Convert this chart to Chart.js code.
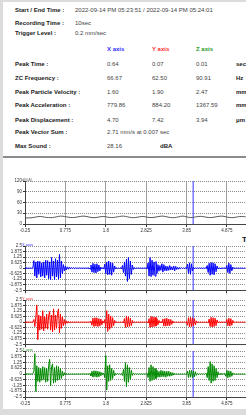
<!DOCTYPE html>
<html>
<head>
<meta charset="utf-8">
<script src="https://cdn.jsdelivr.net/npm/chart.js@4.4.1/dist/chart.umd.min.js"></script>
<style>
    html, body { margin: 0; padding: 0; }
    body {
        width: 246px; height: 415px; overflow: hidden; position: relative;
        background: #dcdcdc; font-family: "Liberation Sans", Arial, sans-serif;
    }
    #panel {
        position: absolute; left: 3px; top: 2px; width: 260px; height: 154px;
        background: #fff; border-bottom: 2px solid #8c8c8c;
    }
    #plots {
        position: absolute; left: 3px; top: 158px; width: 260px; height: 251px;
        background: #fff;
    }
    .t { position: absolute; font-size: 6px; line-height: 8px; white-space: nowrap; color: #444; }
    .lbl { left: 15px; font-weight: bold; color: #1a1a1a; }
    .v1 { left: 75px; }
    .cx { left: 107px; }
    .cy { left: 152px; }
    .cz { left: 196px; }
    .cu { left: 236px; font-weight: bold; color: #1a1a1a; }
    .hd { font-weight: bold; }
    .box { position: absolute; left: 0; width: 246px; }
</style>
</head>
<body>
<div id="panel"></div>
<div id="plots"></div>

<div class="t lbl" style="top:6px">Start / End Time :</div>
<div class="t v1" style="top:6px">2022-09-14 PM 05:23:51 / 2022-09-14 PM 05:24:01</div>
<div class="t lbl" style="top:19px">Recording Time :</div>
<div class="t v1" style="top:19px">10sec</div>
<div class="t lbl" style="top:29px">Trigger Level :</div>
<div class="t v1" style="top:29px">0.2 mm/sec</div>

<div class="t cx hd" style="top:45px;color:#3030ff">X axis</div>
<div class="t cy hd" style="top:45px;color:#ff2a2a">Y axis</div>
<div class="t cz hd" style="top:45px;color:#2a9a2a">Z axis</div>

<div class="t lbl" style="top:60px">Peak Time :</div>
<div class="t cx" style="top:60px">0.64</div>
<div class="t cy" style="top:60px">0.07</div>
<div class="t cz" style="top:60px">0.01</div>
<div class="t cu" style="top:60px">sec</div>

<div class="t lbl" style="top:74px">ZC Frequency :</div>
<div class="t cx" style="top:74px">66.67</div>
<div class="t cy" style="top:74px">62.50</div>
<div class="t cz" style="top:74px">90.91</div>
<div class="t cu" style="top:74px">Hz</div>

<div class="t lbl" style="top:88px">Peak Particle Velocity :</div>
<div class="t cx" style="top:88px">1.60</div>
<div class="t cy" style="top:88px">1.90</div>
<div class="t cz" style="top:88px">2.47</div>
<div class="t cu" style="top:88px">mm/s</div>

<div class="t lbl" style="top:101px">Peak Acceleration :</div>
<div class="t cx" style="top:101px">779.86</div>
<div class="t cy" style="top:101px">884.20</div>
<div class="t cz" style="top:101px">1367.59</div>
<div class="t cu" style="top:101px">mm/s²</div>

<div class="t lbl" style="top:116px">Peak Displacement :</div>
<div class="t cx" style="top:116px">4.70</div>
<div class="t cy" style="top:116px">7.42</div>
<div class="t cz" style="top:116px">3.94</div>
<div class="t cu" style="top:116px">μm</div>

<div class="t lbl" style="top:128px">Peak Vector Sum :</div>
<div class="t cx" style="top:128px">2.71 mm/s at 0.007 sec</div>

<div class="t lbl" style="top:142px">Max Sound :</div>
<div class="t cx" style="top:142px">28.16</div>
<div class="t hd" style="top:142px;left:160px;color:#1a1a1a">dBA</div>

<div class="t hd" style="top:236px;left:242px;font-size:8px;color:#111">T</div>

<div class="box" style="top:177px;height:57px"><canvas id="soundChart" width="246" height="57"></canvas></div>
<div class="box" style="top:242px;height:52px"><canvas id="xChart" width="246" height="52"></canvas></div>
<div class="box" style="top:296px;height:52px"><canvas id="yChart" width="246" height="52"></canvas></div>
<div class="box" style="top:347px;height:60px"><canvas id="zChart" width="246" height="60"></canvas></div>

<script>
// Time axis
const waveStart = -0.25, waveStep = 0.025;   // seconds per sample
const soundStart = -0.25, soundStep = 0.1;
const xMin = -0.25, xMax = 5.36;
const xTicks = [-0.25, 0.775, 1.8, 2.825, 3.85, 4.875];
const xTickLabels = ['-0.25', '0.775', '1.8', '2.825', '3.85', '4.875'];

const waveTicks = [-2.5, -1.875, -1.25, -0.625, 0, 0.625, 1.25, 1.875, 2.5];
const waveTickLabels = ['-2.5', '-1.875', '-1.25', '-0.625', '0', '0.625', '1.25', '1.875', '2.5'];
const soundTicks = [0, 30, 60, 90, 120];

const cursorTime = 4.02;

// Sound level, dB(A)
const soundLevel = [
    17, 17, 18, 20, 21, 19, 18, 18, 20, 22,
    21, 19, 18, 19, 21, 22, 20, 18, 18, 20,
    21, 19, 18, 19, 21, 22, 20, 18, 18, 20,
    21, 19, 18, 19, 21, 22, 20, 18, 18, 20,
    22, 20, 18, 19, 21, 21, 19, 18, 19, 21,
    22, 20, 18, 18, 20, 21, 20
];

// X axis (blue) velocity
const xWave = [
    0.03, -0.03, 0.03, -0.03, 0.03, -0.03, 0.03, -0.03, 0.03, 0.85,
    -0.9, 0.7, -1.1, 0.8, -0.7, 0.75, -1.0, 0.6, -0.9, 0.7,
    -1.1, 0.9, -0.8, 0.85, -1.2, 0.7, -1.3, 1.2, -0.9, 0.8,
    -1.3, 1.07, -1.0, 0.9, -1.25, 1.55, -1.1, 0.8, -0.6, 0.4,
    -0.3, 0.25, -0.2, 0.15, -0.12, 0.1, -0.08, 0.08, -0.06, 0.06,
    -0.05, 0.05, -0.04, 0.03, -0.03, 0.03, -0.03, 0.03, -0.03, 0.03,
    -0.03, 0.03, -0.03, 0.03, -0.03, 0.05, -0.1, 0.35, -0.45, 0.55,
    -0.5, 0.45, -0.55, 0.5, -0.4, 0.35, -0.3, 0.12, -0.08, 0.06,
    -0.1, 0.45, -0.6, 0.7, -0.75, 0.8, -0.7, 0.65, -0.8, 0.55,
    -0.45, 0.25, -0.1, 0.06, -0.05, 0.05, -0.05, 0.06, -0.08, 0.3,
    -0.5, 0.7, -0.9, 1.0, -1.5, 1.2, -1.2, 0.8, -0.7, 0.35,
    -0.15, 0.08, -0.05, 0.04, -0.03, 0.03, -0.03, 0.03, -0.03, 0.03,
    -0.03, 0.03, -0.04, 0.06, -0.1, 0.6, -0.9, 1.2, -0.96, 0.9,
    -0.8, 0.7, -0.9, 0.75, -0.6, 0.4, -0.35, 0.3, -0.25, 0.5,
    -0.45, 0.4, -0.3, 0.25, -0.3, 0.2, -0.25, 0.3, -0.2, 0.15,
    -0.2, 0.25, -0.3, 0.2, -0.15, 0.1, -0.12, 0.08, -0.06, 0.05,
    -0.04, 0.03, -0.03, 0.05, -0.1, 0.45, -0.6, 0.6, -0.7, 0.5,
    -0.3, 0.1, -0.05, 0.03, -0.03, 0.03, -0.03, 0.03, -0.03, 0.03,
    -0.03, 0.03, -0.03, 0.04, -0.06, 0.3, -0.5, 0.55, -0.8, 0.64,
    -0.7, 0.6, -0.75, 0.5, -0.4, 0.25, -0.1, 0.05, -0.04, 0.03,
    -0.03, 0.03, -0.03, 0.04, -0.06, 0.3, -0.5, 0.57, -0.6, 0.4,
    -0.3, 0.12, -0.06, 0.03, -0.03, 0.03, -0.03, 0.03, -0.03, 0.03,
    -0.03, 0.03, -0.03, 0.03, -0.03
];

// Y axis (red) velocity
const yWave = [
    0.03, -0.03, 0.03, -0.03, 0.03, -0.03, 0.03, -0.03, 0.03, 0.3,
    -0.5, 0.6, 1.94, -1.98, 0.8, -0.9, 0.7, -0.8, 1.3, -1.0,
    0.6, -0.7, 0.9, -0.8, 0.7, 1.2, -0.9, 0.8, -1.1, 1.5,
    -0.9, 0.8, -0.7, 1.0, 1.5, -1.2, 0.9, -0.7, 0.6, -0.4,
    0.3, -0.25, 0.15, -0.12, 0.1, -0.08, 0.06, -0.05, 0.04, -0.03,
    0.03, -0.03, 0.03, -0.03, 0.03, -0.03, 0.03, -0.03, 0.03, -0.03,
    0.03, -0.03, 0.03, -0.03, 0.03, -0.03, 0.05, 0.1, -0.35, 0.45,
    -0.5, 0.5, -0.45, 0.5, -0.5, 0.4, -0.45, 0.35, -0.3, 0.15,
    -0.08, 0.3, -0.6, 1.3, -1.05, 0.9, -0.8, 0.7, -0.6, 0.5,
    -0.4, 0.2, -0.08, 0.05, -0.04, 0.03, -0.03, 0.03, -0.03, 0.04,
    -0.1, 0.4, -0.6, 0.7, -0.55, 0.6, -0.5, 0.45, -0.4, 0.2,
    -0.08, 0.05, -0.03, 0.03, -0.03, 0.03, -0.03, 0.03, -0.03, 0.03,
    -0.03, 0.03, -0.03, 0.03, 0.05, -0.1, 0.4, -0.6, 0.65, -0.55,
    0.6, -0.5, 0.55, -0.45, 0.4, -0.3, 0.2, -0.1, 0.08, -0.1,
    0.35, -0.45, 0.4, -0.45, 0.45, -0.4, 0.35, -0.4, 0.3, -0.25,
    0.15, -0.08, 0.05, -0.03, 0.03, -0.03, 0.03, -0.03, 0.03, -0.03,
    0.03, -0.03, 0.03, -0.03, 0.08, -0.35, 0.5, -0.55, 0.55, -0.5,
    0.5, -0.45, 0.4, -0.3, 0.15, -0.06, 0.04, -0.03, 0.03, -0.03,
    0.03, -0.03, 0.03, -0.03, 0.03, -0.03, -0.08, 0.35, -0.5, 0.55,
    -0.55, 0.5, -0.5, 0.45, -0.4, 0.25, -0.1, 0.05, -0.03, 0.03,
    -0.03, 0.03, -0.03, 0.03, -0.06, 0.3, -0.4, 0.45, -0.45, 0.4,
    -0.35, 0.2, -0.08, 0.04, -0.03, 0.03, -0.03, 0.03, -0.03, 0.03,
    -0.03, 0.03, -0.03, 0.03, -0.03
];

// Z axis (green) velocity
const zWave = [
    0.03, -0.03, 0.03, -0.03, 0.03, -0.03, 0.03, -0.03, 0.03, 0.3,
    2.2, -1.9, 0.9, -0.8, 0.7, -0.9, 0.6, -0.7, 0.8, -0.6,
    0.7, -0.9, 0.6, -0.8, 0.9, 1.6, -1.3, 0.8, 1.1, -1.0,
    0.7, -0.9, 0.9, -0.7, 0.8, -0.6, 0.6, -0.5, 0.3, -0.2,
    0.15, -0.1, 0.08, -0.06, 0.05, -0.04, 0.03, -0.03, 0.03, -0.03,
    0.03, -0.03, 0.03, -0.03, 0.03, -0.03, 0.03, -0.03, 0.03, -0.03,
    0.03, -0.03, 0.03, -0.03, 0.03, -0.03, 0.06, -0.2, 0.3, -0.35,
    0.35, -0.3, 0.35, -0.35, 0.3, -0.3, 0.25, -0.2, 0.15, -0.08,
    0.1, -0.4, 2.0, -1.75, 0.9, -0.8, 1.0, -0.7, 0.6, -0.5,
    0.4, -0.2, 0.08, -0.05, 0.04, -0.03, 0.03, -0.03, 0.05, -0.15,
    0.5, -0.8, 1.24, -1.4, 1.0, -0.9, 0.7, -0.6, 0.4, -0.15,
    0.06, -0.03, 0.03, -0.03, 0.03, -0.03, 0.03, -0.03, 0.03, -0.03,
    0.03, -0.03, 0.03, -0.03, 0.08, -0.4, 0.7, -0.8, 1.0, -0.7,
    0.8, -0.6, 0.6, -0.5, 0.4, -0.35, 0.3, -0.35, 0.4, -0.3,
    0.35, -0.3, 0.3, -0.35, 0.3, -0.25, 0.3, -0.25, 0.2, -0.2,
    0.15, -0.12, 0.08, -0.05, 0.04, -0.03, 0.03, -0.03, 0.03, -0.03,
    0.03, -0.03, 0.03, -0.03, -0.06, 0.3, -0.4, 0.4, -0.35, 0.4,
    -0.4, 0.35, -0.3, 0.25, -0.15, 0.06, -0.03, 0.03, -0.03, 0.03,
    -0.03, 0.03, -0.03, 0.03, 0.08, -0.4, 0.8, -0.7, 1.35, -1.0,
    1.1, -0.8, 0.9, -0.7, 0.6, -0.4, 0.25, -0.1, 0.05, -0.03,
    0.03, -0.03, 0.03, 0.06, -0.25, 0.4, -0.4, 0.35, -0.35, 0.3,
    -0.25, 0.12, -0.05, 0.03, -0.03, 0.03, -0.03, 0.03, -0.03, 0.03,
    -0.03, 0.03, -0.03, 0.03, -0.03
];

const tickFont = { family: 'Liberation Sans', size: 4.5 };

// Small label drawn at the top-left corner of the plot area
const cornerLabel = {
    id: 'cornerLabel',
    afterDraw(chart, args, opts) {
        const { ctx, chartArea } = chart;
        ctx.save();
        ctx.font = '4px "Liberation Sans"';
        ctx.fillStyle = opts.color;
        ctx.textBaseline = 'bottom';
        ctx.fillText(opts.text, chartArea.left - 3, chartArea.top + 1);
        ctx.restore();
    }
};

function toPoints(values, start, step) {
    return values.map((v, i) => ({ x: start + i * step, y: v }));
}

function makeChart(id, opts) {
    const ctx = document.getElementById(id).getContext('2d');
    return new Chart(ctx, {
        type: 'line',
        data: {
            datasets: [{
                data: opts.points,
                borderColor: opts.color,
                borderWidth: 1,
                pointRadius: 0,
                tension: opts.tension || 0
            }, {
                data: [{ x: cursorTime, y: opts.yMin }, { x: cursorTime, y: opts.yMax }],
                borderColor: '#7878ff',
                borderWidth: 1.5,
                pointRadius: 0
            }]
        },
        options: {
            responsive: false,
            animation: false,
            layout: { padding: { top: 4, right: 0, bottom: 0, left: 0 } },
            plugins: {
                legend: { display: false },
                tooltip: { enabled: false },
                cornerLabel: { text: opts.title, color: opts.titleColor }
            },
            scales: {
                x: {
                    type: 'linear',
                    min: xMin,
                    max: xMax,
                    afterBuildTicks: s => { s.ticks = xTicks.map(v => ({ value: v })); },
                    afterFit: s => { s.height = opts.showX ? 10 : 3; },
                    grid: { color: '#a0a0a0', tickColor: '#333', tickLength: 3 },
                    border: { color: '#444', width: 1 },
                    ticks: {
                        display: opts.showX,
                        autoSkip: false,
                        maxRotation: 0,
                        padding: 1,
                        color: '#333',
                        font: tickFont,
                        callback: (v, i) => xTickLabels[i]
                    }
                },
                y: {
                    min: opts.yMin,
                    max: opts.yMax,
                    afterBuildTicks: s => { s.ticks = opts.yTicks.map(v => ({ value: v })); },
                    afterFit: s => { s.width = 25; },
                    grid: { color: '#8a8a8a', tickColor: '#333', tickLength: 2 },
                    border: { color: '#444', width: 1, dash: [1, 1] },
                    ticks: {
                        autoSkip: false,
                        padding: 1,
                        color: '#333',
                        font: tickFont,
                        callback: (v, i) => opts.yLabels[i]
                    }
                }
            }
        },
        plugins: [cornerLabel]
    });
}

makeChart('soundChart', {
    points: toPoints(soundLevel, soundStart, soundStep),
    color: '#555', tension: 0.4,
    yMin: 0, yMax: 120, yTicks: soundTicks, yLabels: soundTicks.map(String),
    title: 'dB(A)', titleColor: '#777', showX: true
});
makeChart('xChart', {
    points: toPoints(xWave, waveStart, waveStep),
    color: '#0000ff',
    yMin: -2.5, yMax: 2.5, yTicks: waveTicks, yLabels: waveTickLabels,
    title: 'X axis', titleColor: '#3030ff', showX: false
});
makeChart('yChart', {
    points: toPoints(yWave, waveStart, waveStep),
    color: '#ff0000',
    yMin: -2.5, yMax: 2.5, yTicks: waveTicks, yLabels: waveTickLabels,
    title: 'Y axis', titleColor: '#ff3030', showX: false
});
makeChart('zChart', {
    points: toPoints(zWave, waveStart, waveStep),
    color: '#008a00',
    yMin: -2.5, yMax: 2.5, yTicks: waveTicks, yLabels: waveTickLabels,
    title: 'Z axis', titleColor: '#2a9a2a', showX: true
});
</script>
</body>
</html>
